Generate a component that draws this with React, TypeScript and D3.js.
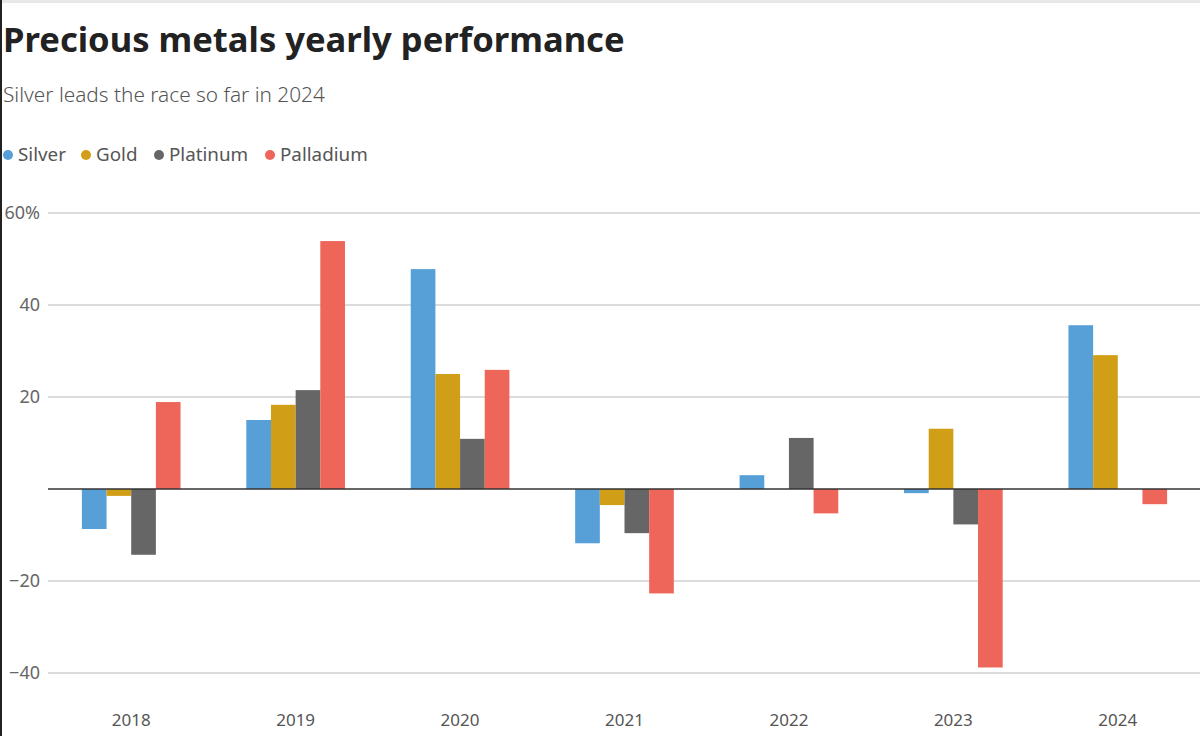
import React from "react";
import * as d3 from "d3";

const years = ["2018", "2019", "2020", "2021", "2022", "2023", "2024"];
const seriesNames = ["Silver", "Gold", "Platinum", "Palladium"];
const seriesColors = ["#579fd7", "#d19f17", "#666666", "#ee665a"];
const silver = [-8.7, 15.0, 47.8, -11.8, 3.0, -0.9, 35.6];
const gold = [-1.5, 18.3, 25.0, -3.5, 0, 13.1, 29.1];
const platinum = [-14.3, 21.5, 10.9, -9.6, 11.1, -7.7, 0];
const palladium = [18.9, 53.9, 25.9, -22.7, -5.3, -38.8, -3.3];
const yTicks = [-40, -20, 0, 20, 40, 60];

const W = 1200;
const H = 736;
const FONT = "'Source Sans Pro', 'Noto Sans', Lato, sans-serif";

export default function App() {
  const values = [silver, gold, platinum, palladium];
  const x = d3.scaleBand<string>().domain(years).range([49, 1200]).paddingInner(0.4).paddingOuter(0.2);
  const xs = d3.scaleBand<string>().domain(seriesNames).range([0, x.bandwidth()]).padding(0);
  const y = d3.scaleLinear().domain([-40, 60]).range([673, 213]);
  const legendX = [8, 86, 159, 270];

  return (
    <svg width={W} height={H} style={{ position: "absolute", left: 0, top: 0, background: "#fff" }}>
      <rect x={0} y={0} width={W} height={3} fill="#e8e8e8" />
      <rect x={0} y={0} width={2} height={H} fill="#222" />
      <text x={3} y={52} fontFamily={FONT} fontWeight={700} fontSize={34.6} fill="#222">
        Precious metals yearly performance
      </text>
      <text x={3} y={102} fontFamily={FONT} fontWeight={300} fontSize={20.8} fill="#555">
        Silver leads the race so far in 2024
      </text>
      {seriesNames.map((s, i) => (
        <g key={s}>
          <circle cx={legendX[i]} cy={155} r={5} fill={seriesColors[i]} />
          <text x={legendX[i] + 10} y={161} fontFamily={FONT} fontSize={18.8} fill="#555">{s}</text>
        </g>
      ))}
      {yTicks.filter((t) => t !== 0).map((t) => (
        <g key={t}>
          <line x1={48} x2={W} y1={y(t)} y2={y(t)} stroke="#d0d0d0" strokeWidth={1.5} />
          <text x={40} y={y(t) + 6} textAnchor="end" fontFamily={FONT} fontSize={18} fill="#666">
            {t === 60 ? "60%" : t < 0 ? "\u2212" + Math.abs(t) : String(t)}
          </text>
        </g>
      ))}
      {years.map((yr, i) => (
        <g key={yr}>
          {values.map((vals, si) => {
            const v = vals[i];
            if (v === 0) return null;
            const y0 = y(0);
            const y1 = y(v);
            return (
              <rect
                key={si}
                x={(x(yr) as number) + (xs(seriesNames[si]) as number)}
                width={xs.bandwidth()}
                y={Math.min(y0, y1)}
                height={Math.abs(y1 - y0)}
                fill={seriesColors[si]}
              />
            );
          })}
          <text
            x={(x(yr) as number) + x.bandwidth() / 2}
            y={726}
            textAnchor="middle"
            fontFamily={FONT}
            fontSize={17}
            fill="#555"
          >
            {yr}
          </text>
        </g>
      ))}
      <line x1={48} x2={W} y1={y(0)} y2={y(0)} stroke="#333" strokeWidth={1.5} />
    </svg>
  );
}
